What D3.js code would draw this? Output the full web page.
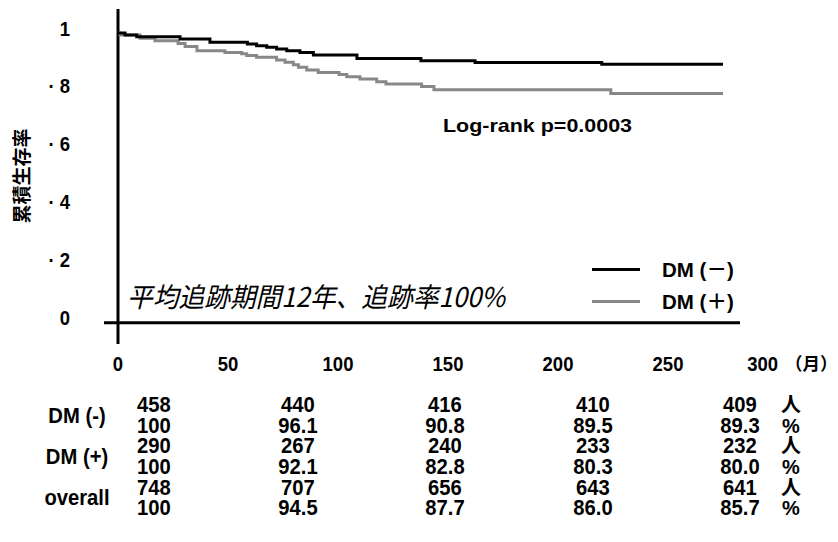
<!DOCTYPE html>
<html>
<head>
<meta charset="utf-8">
<script src="https://cdn.jsdelivr.net/npm/d3@7/dist/d3.min.js"></script>
<style>
  html, body { margin: 0; padding: 0; background: #fff; }
  svg { display: block; }
  .num { font-family: "Liberation Sans", Arial, sans-serif; font-weight: bold; fill: #000; }
  .cjk { font-family: "Liberation Sans", "Noto Sans CJK JP", sans-serif; font-weight: bold; fill: #000; }
</style>
</head>
<body>
<svg id="chart" width="838" height="542"></svg>
<script>
// Kaplan-Meier estimates (months, cumulative survival)
const dmNegTimes = [0, 3.2, 8.5, 28.2, 41.8, 58.8, 63.0, 67.6, 72.1, 76.7, 82.7, 88.8, 108.6, 137.7, 162.3, 219.9, 275];
const dmNegSurv  = [1.000, 0.993, 0.987, 0.979, 0.968, 0.962, 0.956, 0.951, 0.945, 0.939, 0.933, 0.924, 0.912, 0.904, 0.898, 0.892, 0.892];
const dmPosTimes = [0, 1, 10, 16.8, 27.3, 30.5, 35.9, 48.6, 56.2, 58.5, 63.0, 72.1, 75.9, 79.7, 82.0, 85.8, 91.0, 100.5, 104.0, 110.0, 117.6, 121.8, 138.0, 143.6, 224.0, 275];
const dmPosSurv  = [1.000, 0.993, 0.982, 0.973, 0.964, 0.953, 0.939, 0.933, 0.928, 0.922, 0.916, 0.907, 0.899, 0.890, 0.882, 0.872, 0.864, 0.857, 0.849, 0.841, 0.832, 0.824, 0.815, 0.804, 0.791, 0.791];

const seriesNames = ["DM (－)", "DM (＋)"];
const seriesColors = ["#000000", "#888888"];

const xTicks = [0, 50, 100, 150, 200, 250, 300];
const yTicks = [0, 0.2, 0.4, 0.6, 0.8, 1];
const yTickLabels = ["0", "· 2", "· 4", "· 6", "· 8", "1"];

// Number at risk / survival table
const tableGroups = ["DM (-)", "DM (+)", "overall"];
const atRiskNeg = ["458", "440", "416", "410", "409"];
const survNeg   = ["100", "96.1", "90.8", "89.5", "89.3"];
const atRiskPos = ["290", "267", "240", "233", "232"];
const survPos   = ["100", "92.1", "82.8", "80.3", "80.0"];
const atRiskAll = ["748", "707", "656", "643", "641"];
const survAll   = ["100", "94.5", "87.7", "86.0", "85.7"];
const unitLabels = ["人", "%"];

const svg = d3.select("#chart");
svg.append("rect").attr("width", 838).attr("height", 542).attr("fill", "#fff");

const x = d3.scaleLinear().domain([0, 300]).range([118, 778]);
const y = d3.scaleLinear().domain([0, 1]).range([322.7, 33]);

// narrow bold text: drawn at (px, py) and squeezed horizontally
function narrow(sx) {
  return (px, py) => `translate(${px},${py}) scale(${sx},1)`;
}
const tickFit = narrow(0.88);
const tableFit = narrow(0.92);

// axes
svg.append("line").attr("x1", x(0)).attr("x2", x(0)).attr("y1", 9).attr("y2", 344)
  .attr("stroke", "#000").attr("stroke-width", 3);
svg.append("line").attr("x1", 104).attr("x2", 740).attr("y1", y(0)).attr("y2", y(0))
  .attr("stroke", "#000").attr("stroke-width", 3);

// y tick labels
svg.selectAll(".ytick").data(yTicks).join("text")
  .attr("class", "num ytick")
  .attr("transform", d => tickFit(70, y(d) + 2.5))
  .attr("text-anchor", "end")
  .attr("font-size", 21)
  .text((d, i) => yTickLabels[i]);

// x tick labels (the last one sits left of the unit label)
svg.selectAll(".xtick").data(xTicks).join("text")
  .attr("class", "num xtick")
  .attr("transform", d => tickFit(x(d), 370.5))
  .attr("text-anchor", d => d === 300 ? "end" : "middle")
  .attr("font-size", 21)
  .text(d => d);
svg.append("text").attr("class", "cjk").attr("x", 785).attr("y", 370)
  .attr("font-size", 17.5).text("（月）");

// y title
svg.append("text").attr("class", "cjk")
  .attr("transform", "translate(29,176) rotate(-90)")
  .attr("text-anchor", "middle")
  .attr("font-size", 19)
  .text("累積生存率");

// survival curves
const line = d3.line().curve(d3.curveStepAfter).x(d => x(d[0])).y(d => y(d[1]));
const series = [
  { pts: d3.zip(dmPosTimes, dmPosSurv), color: seriesColors[1] },
  { pts: d3.zip(dmNegTimes, dmNegSurv), color: seriesColors[0] }
];
svg.selectAll(".km").data(series).join("path")
  .attr("class", "km")
  .attr("d", d => line(d.pts))
  .attr("fill", "none")
  .attr("stroke", d => d.color)
  .attr("stroke-width", 3);

// log-rank annotation
svg.append("text").attr("class", "num")
  .attr("x", 443).attr("y", 132)
  .attr("font-size", 19)
  .attr("textLength", 189).attr("lengthAdjust", "spacingAndGlyphs")
  .text("Log-rank p=0.0003");

// follow-up note
svg.append("text")
  .attr("x", 127).attr("y", 307)
  .attr("font-family", "'Noto Sans CJK JP', sans-serif")
  .attr("font-style", "italic")
  .attr("font-size", 27)
  .attr("fill", "#000")
  .attr("textLength", 378).attr("lengthAdjust", "spacingAndGlyphs")
  .text("平均追跡期間12年、追跡率100%");

// legend
const legend = svg.append("g");
seriesNames.forEach((name, i) => {
  const ly = 269.5 + i * 32;
  legend.append("line").attr("x1", 592).attr("x2", 640).attr("y1", ly).attr("y2", ly)
    .attr("stroke", seriesColors[i]).attr("stroke-width", 3);
  legend.append("text").attr("class", "cjk")
    .attr("x", 662).attr("y", ly + 7.5)
    .attr("font-size", 20.5)
    .text(name);
});

// table
const colX = [154, 298, 445, 593, 740];
const rowY = [404, 425, 445, 466, 487, 507];
const tableRows = [atRiskNeg, survNeg, atRiskPos, survPos, atRiskAll, survAll];
tableRows.forEach((row, r) => {
  svg.selectAll(".cell" + r).data(row).join("text")
    .attr("class", "num cell" + r)
    .attr("transform", (d, c) => tableFit(colX[c], rowY[r] + 8))
    .attr("text-anchor", "middle")
    .attr("font-size", 22)
    .text(d => d);
  svg.append("text").attr("class", "cjk")
    .attr("x", 791).attr("y", rowY[r] + 8)
    .attr("text-anchor", "middle")
    .attr("font-size", 20)
    .text(unitLabels[r % 2]);
});
tableGroups.forEach((g, i) => {
  svg.append("text").attr("class", "num")
    .attr("transform", tableFit(77, (rowY[i * 2] + rowY[i * 2 + 1]) / 2 + 8))
    .attr("text-anchor", "middle")
    .attr("font-size", 22)
    .text(g);
});
</script>
</body>
</html>
